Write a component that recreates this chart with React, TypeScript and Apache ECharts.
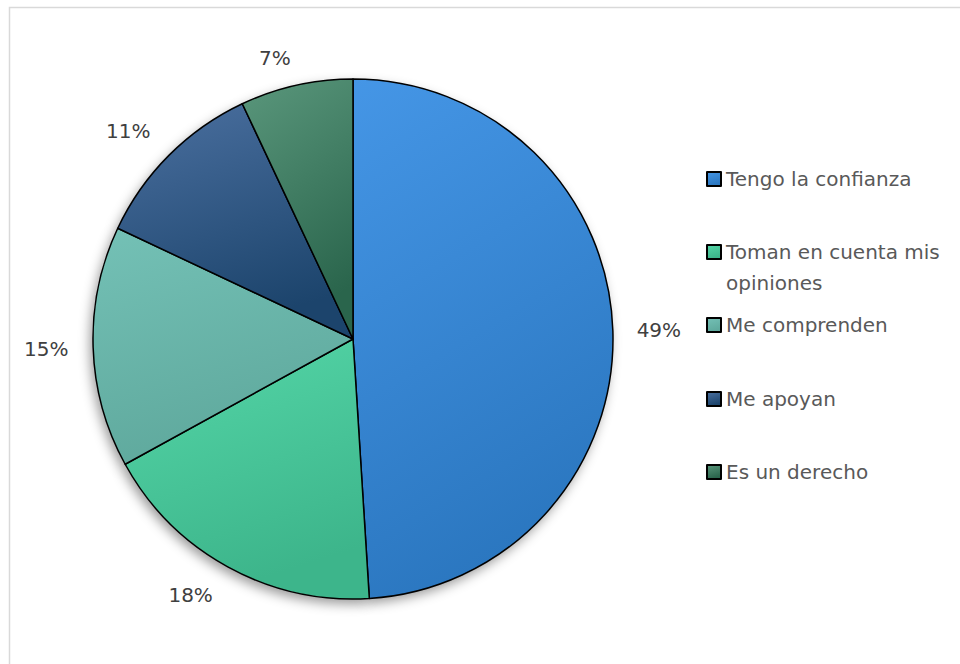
import React, { useEffect, useRef } from 'react';
import * as echarts from 'echarts';

const categories = [
  'Tengo la confianza',
  'Toman en cuenta mis opiniones',
  'Me comprenden',
  'Me apoyan',
  'Es un derecho',
];
const values = [49, 18, 15, 11, 7];
const topColors = ['#4596e6', '#55d7a8', '#74c1b6', '#4b70a0', '#5a977c'];
const bottomColors = ['#2b77c0', '#3db58b', '#5fa99d', '#1c446c', '#2a654c'];

// layout constants (not data)
const labelOffsets = [
  [-2, 1],
  [-14, -14],
  [1, 0],
  [-7, 10],
  [-11, 20],
];
const legendLeft = 706;
const legendIconCenters = [179, 252, 325, 399, 472];
const LINE_H = 31;

export default function App() {
  const ref = useRef<HTMLDivElement>(null);
  useEffect(() => {
    if (!ref.current) return;
    const chart = echarts.init(ref.current, undefined, { renderer: 'svg' });
    const font = 'DejaVu Sans';
    const data = categories.map((name, i) => ({
      name,
      value: values[i],
      itemStyle: {
        color: {
          type: 'linear',
          x: 0,
          y: 0,
          x2: 0.3,
          y2: 1,
          colorStops: [
            { offset: 0, color: topColors[i] },
            { offset: 1, color: bottomColors[i] },
          ],
        },
      },
    }));
    const legends = categories.map((name, i) => {
      const twoLine = i === 1;
      const h = twoLine ? LINE_H * 3 : LINE_H;
      return {
        orient: 'vertical',
        left: legendLeft,
        top: legendIconCenters[i] - h / 2,
        padding: 0,
        itemWidth: 14,
        itemHeight: 14,
        itemGap: 0,
        icon: 'rect',
        selectedMode: false,
        data: [name],
        formatter: twoLine ? () => '\nToman en cuenta mis\nopiniones' : '{name}',
        textStyle: {
          fontFamily: font,
          fontSize: 20,
          color: '#595959',
          lineHeight: LINE_H,
        },
      };
    });
    chart.setOption({
      animation: false,
      backgroundColor: '#ffffff',
      legend: legends,
      graphic: [
        {
          type: 'rect',
          shape: { x: 9.5, y: 7.5, width: 1000, height: 700 },
          style: { fill: 'none', stroke: '#d9d9d9', lineWidth: 1.5 },
          silent: true,
        },
      ],
      series: [
        {
          type: 'pie',
          name: 'main',
          center: [353, 339],
          radius: 260,
          startAngle: 90,
          clockwise: true,
          z: 3,
          label: { show: false },
          labelLine: { show: false },
          emphasis: { disabled: true },
          itemStyle: { borderColor: '#000000', borderWidth: 1.5 },
          data,
        },
        {
          type: 'pie',
          name: 'labels',
          center: [353, 339],
          radius: [292, 318],
          startAngle: 90,
          clockwise: true,
          silent: true,
          z: 4,
          emphasis: { disabled: true },
          itemStyle: { color: 'rgba(0,0,0,0)', borderWidth: 0 },
          labelLine: { show: false },
          label: {
            show: true,
            position: 'inside',
            formatter: '{c}%',
            fontFamily: font,
            fontSize: 20,
            color: '#404040',
          },
          data: categories.map((name, i) => ({
            name,
            value: values[i],
            label: { offset: labelOffsets[i] },
          })),
        },
        {
          type: 'pie',
          name: 'shadow',
          center: [353, 339],
          radius: 260,
          startAngle: 90,
          clockwise: true,
          silent: true,
          z: 1,
          emphasis: { disabled: true },
          label: { show: false },
          labelLine: { show: false },
          itemStyle: {
            color: '#ffffff',
            shadowBlur: 12,
            shadowColor: 'rgba(0,0,0,0.4)',
            shadowOffsetX: -3,
            shadowOffsetY: 5,
          },
          data: categories.map((name, i) => ({ name, value: values[i] })),
        },
      ],
    });
    return () => chart.dispose();
  }, []);
  return (
    <div
      ref={ref}
      style={{ position: 'fixed', left: 0, top: 0, width: 960, height: 664 }}
    />
  );
}
